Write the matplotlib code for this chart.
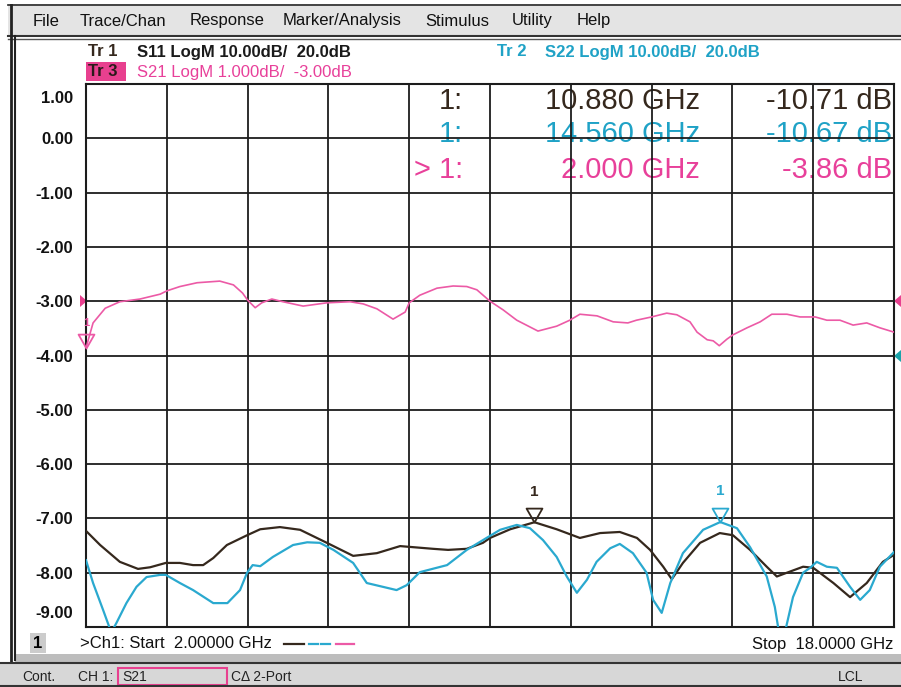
import numpy as np
import matplotlib.pyplot as plt
from matplotlib.patches import Rectangle, Polygon
from matplotlib.path import Path
from matplotlib.transforms import ScaledTranslation

plt.rcParams['font.family'] = ['Liberation Sans', 'DejaVu Sans']

# sweep, GHz
f_start, f_stop = 2.0, 18.0

# Tr 3  S21 LogM 1.000dB/div, ref -3.00dB (same scale as the left axis)
s21_f = [2.0, 2.14, 2.38, 2.67, 3.07, 3.47, 3.6, 3.86, 4.2, 4.65, 4.92, 5.1, 5.2,
         5.35, 5.48, 5.68, 5.9, 6.3, 6.77, 7.23, 7.49, 7.76, 8.08, 8.32, 8.4, 8.61,
         8.95, 9.27, 9.54, 9.74, 10.0, 10.26, 10.53, 10.95, 11.32, 11.58, 11.78,
         12.12, 12.44, 12.73, 12.9, 13.2, 13.5, 13.7, 13.96, 14.1, 14.3, 14.42,
         14.54, 14.69, 14.81, 15.09, 15.35, 15.58, 15.88, 16.14, 16.44, 16.67,
         16.93, 17.19, 17.46, 17.72, 18.0]
s21_db = [-3.86, -3.40, -3.13, -3.01, -2.96, -2.87, -2.81, -2.73, -2.66, -2.63,
          -2.70, -2.85, -2.98, -3.12, -3.03, -2.96, -3.01, -3.09, -3.03, -3.01,
          -3.05, -3.14, -3.33, -3.20, -3.03, -2.89, -2.76, -2.72, -2.73, -2.79,
          -3.00, -3.16, -3.35, -3.55, -3.46, -3.35, -3.24, -3.27, -3.38, -3.40,
          -3.35, -3.29, -3.22, -3.25, -3.38, -3.57, -3.71, -3.73, -3.82, -3.70,
          -3.62, -3.49, -3.38, -3.24, -3.24, -3.29, -3.29, -3.35, -3.35, -3.44,
          -3.40, -3.49, -3.57]

# Tr 1  S11 LogM 10.00dB/div, ref 20.0dB
s11_f = [2.0, 2.28, 2.67, 3.03, 3.27, 3.58, 3.86, 4.12, 4.32, 4.52, 4.79, 5.19,
         5.45, 5.84, 6.24, 6.77, 7.29, 7.76, 8.22, 8.87, 9.17, 9.54, 9.86, 10.0,
         10.4, 10.88, 11.32, 11.78, 12.18, 12.57, 12.91, 13.17, 13.43, 13.6,
         13.82, 14.16, 14.55, 14.81, 15.15, 15.48, 15.68, 15.88, 16.2, 16.4,
         16.8, 17.13, 17.46, 17.78, 18.0]
s11_db = [-12.3, -14.9, -18.0, -19.3, -19.0, -18.2, -18.2, -18.6, -18.6, -17.3,
          -14.9, -13.1, -12.0, -11.6, -12.1, -14.5, -16.9, -16.4, -15.1, -15.6,
          -15.8, -15.6, -14.5, -13.6, -12.0, -10.71, -12.0, -13.6, -12.7, -12.5,
          -13.6, -15.8, -18.9, -21.2, -18.2, -14.5, -12.7, -13.1, -15.8, -18.9,
          -20.7, -20.0, -18.9, -19.1, -21.9, -24.5, -21.9, -18.0, -16.7]

# Tr 2  S22 LogM 10.00dB/div, ref 20.0dB
s22_f = [2.0, 2.14, 2.34, 2.5, 2.6, 2.8, 3.0, 3.2, 3.47, 3.58, 3.86, 4.12, 4.52,
         4.8, 5.05, 5.19, 5.3, 5.45, 5.7, 6.1, 6.38, 6.63, 6.9, 7.29, 7.56, 8.15,
         8.35, 8.61, 9.15, 9.54, 9.86, 10.2, 10.53, 10.79, 11.05, 11.32, 11.52,
         11.72, 11.92, 12.11, 12.38, 12.57, 12.83, 13.1, 13.23, 13.4, 13.57,
         13.82, 14.22, 14.56, 14.89, 15.15, 15.48, 15.64, 15.74, 15.84, 16.0,
         16.2, 16.34, 16.47, 16.67, 16.87, 17.13, 17.33, 17.52, 17.72, 18.0]
s22_db = [-17.7, -21.9, -26.9, -31.0, -29.3, -25.6, -22.6, -20.8, -20.4, -20.4,
          -21.9, -23.2, -25.6, -25.6, -23.2, -20.0, -18.6, -18.8, -17.1, -14.9,
          -14.4, -14.5, -15.8, -18.2, -21.9, -23.2, -22.3, -19.9, -18.6, -15.8,
          -14.0, -12.1, -11.2, -11.8, -14.0, -17.1, -20.7, -23.7, -21.3, -18.0,
          -15.5, -14.7, -16.4, -20.0, -25.0, -27.4, -21.9, -16.4, -12.1, -10.67,
          -11.8, -15.3, -20.7, -26.3, -32.0, -31.0, -24.5, -20.0, -19.1, -18.0,
          -18.9, -19.1, -22.6, -25.0, -23.2, -18.9, -16.2]

# markers (GHz, dB)
mk_s11 = (10.880, -10.71)
mk_s22 = (14.560, -10.67)
mk_s21 = (2.000, -3.86)

y_ticks = [1, 0, -1, -2, -3, -4, -5, -6, -7, -8, -9]
y_labels = ['1.00', '0.00', '-1.00', '-2.00', '-3.00', '-4.00', '-5.00',
            '-6.00', '-7.00', '-8.00', '-9.00']

menu_items = ['File', 'Trace/Chan', 'Response', 'Marker/Analysis', 'Stimulus',
              'Utility', 'Help']
menu_x = [33, 80, 190, 283, 425, 512, 577]

c_s11 = '#35281d'
c_s22 = '#2aa9cf'
c_s21 = '#ec5aa6'
c_s21_txt = '#e8409a'
c_s22_txt = '#1fa2c6'
c_grid = '#1c1c1c'


def s11_scale(db):
    # 10 dB/div, 20 dB sits on the -4.00 line of the S21 grid
    return (np.asarray(db) - 20.0) / 10.0 - 4.0


W, H = 901, 687
fig = plt.figure(figsize=(W / 100, H / 100), dpi=100)

# screen furniture in pixel coordinates
bg = fig.add_axes([0, 0, 1, 1])
bg.set_xlim(0, W)
bg.set_ylim(H, 0)
bg.axis('off')
bg.add_patch(Rectangle((0, 0), W, H, fc='white', ec='none'))
bg.add_patch(Rectangle((8, 6), W, 30, fc='#e4e4e4', ec='none'))
bg.plot([8, W], [5, 5], color='#222', lw=1.2)
bg.plot([8, W], [36, 36], color='#333', lw=1.5)
bg.plot([8, W], [39, 39], color='#555', lw=1.0)
bg.plot([11, 11], [5, 662], color='#222', lw=2.0)
bg.plot([15, 15], [36, 660], color='#222', lw=1.5)
bg.add_patch(Rectangle((15, 654), W, 8, fc='#bdbdbd', ec='none'))
bg.add_patch(Rectangle((0, 662), W, 25, fc='#d7d7d7', ec='none'))
bg.plot([0, W], [662.5, 662.5], color='#333', lw=1.5)
bg.plot([0, W], [686, 686], color='#333', lw=1.5)

for name, x in zip(menu_items, menu_x):
    bg.text(x, 21, name, fontsize=12, va='center', color='#111')

# trace headers
bg.text(88, 52, 'Tr 1', fontsize=12, fontweight='bold', va='center', color=c_s11)
bg.text(137, 52, 'S11 LogM 10.00dB/  20.0dB', fontsize=12, fontweight='bold',
        va='center', color='#1a1a1a')
bg.text(497, 52, 'Tr 2', fontsize=12, fontweight='bold', va='center', color=c_s22_txt)
bg.text(545, 52, 'S22 LogM 10.00dB/  20.0dB', fontsize=12, fontweight='bold',
        va='center', color=c_s22_txt)
bg.add_patch(Rectangle((86, 62), 40, 19, fc='#e8408f', ec='none'))
bg.text(88, 72, 'Tr 3', fontsize=12, fontweight='bold', va='center', color='#2a1a1a')
bg.text(137, 72, 'S21 LogM 1.000dB/  -3.00dB', fontsize=12, va='center',
        color=c_s21_txt)

# marker readout table
rows = [('1:', '10.880 GHz', '-10.71 dB', c_s11, 101),
        ('1:', '14.560 GHz', '-10.67 dB', c_s22_txt, 134),
        ('> 1:', '2.000 GHz', '-3.86 dB', c_s21_txt, 170)]
for lab, fq, val, col, y in rows:
    bg.text(463, y, lab, fontsize=21, ha='right', va='center', color=col)
    bg.text(700, y, fq, fontsize=21, ha='right', va='center', color=col)
    bg.text(892, y, val, fontsize=21, ha='right', va='center', color=col)

# reference position arrows
bg.add_patch(Polygon([(80, 295), (80, 307), (87, 301)], fc='#e8408f', ec='none'))
bg.add_patch(Polygon([(901, 295), (901, 307), (894, 301)], fc='#e8408f', ec='none'))
bg.add_patch(Polygon([(901, 350), (901, 362), (894, 356)], fc='#1aa3aa', ec='none'))

# footer
bg.add_patch(Rectangle((30, 633), 16, 20, fc='#cccccc', ec='none'))
bg.text(38, 643, '1', fontsize=12, fontweight='bold', ha='center', va='center')
bg.text(80, 644, '>Ch1: Start  2.00000 GHz', fontsize=12, va='center', color='#111')
bg.plot([284, 304], [644, 644], color=c_s11, lw=1.6)
bg.plot([309, 318], [644, 644], color=c_s22, lw=1.6)
bg.plot([321, 330], [644, 644], color=c_s22, lw=1.6)
bg.plot([336, 354], [644, 644], color=c_s21, lw=1.6)
bg.text(893, 645, 'Stop  18.0000 GHz', fontsize=12, ha='right', va='center',
        color='#111')

bg.text(22, 677, 'Cont.', fontsize=10, va='center', color='#222')
bg.text(78, 677, 'CH 1:', fontsize=10, va='center', color='#222')
bg.add_patch(Rectangle((118, 668), 109, 17, fc='none', ec='#e8408f', lw=1.5))
bg.text(122, 677, 'S21', fontsize=10, va='center', color='#222')
bg.text(231, 677, 'C\u0394 2-Port', fontsize=10, va='center', color='#222')
bg.text(838, 677, 'LCL', fontsize=10, va='center', color='#222')

# measurement grid
ax = fig.add_axes([86 / W, (H - 627) / H, 808 / W, 543 / H])
ax.set_facecolor('none')
ax.set_xlim(f_start, f_stop)
ax.set_ylim(-9, 1)
ax.set_xticks(np.linspace(f_start, f_stop, 11))
ax.set_xticklabels([])
ax.set_yticks(y_ticks)
ax.set_yticklabels(y_labels, fontweight='bold')
ax.tick_params(length=0)
ax.tick_params(axis='y', pad=9, labelsize=12, labelcolor='#111')
ax.grid(True, color=c_grid, lw=1.3)
for sp in ax.spines.values():
    sp.set_color(c_grid)
    sp.set_linewidth(1.5)

labs = ax.get_yticklabels()
labs[0].set_transform(labs[0].get_transform()
                      + ScaledTranslation(0, -0.13, fig.dpi_scale_trans))
labs[-1].set_transform(labs[-1].get_transform()
                       + ScaledTranslation(0, 0.15, fig.dpi_scale_trans))

ax.plot(s11_f, s11_scale(s11_db), color=c_s11, lw=1.6, zorder=3)
ax.plot(s22_f, s11_scale(s22_db), color=c_s22, lw=1.6, zorder=3)
ax.plot(s21_f, s21_db, color=c_s21, lw=1.2, zorder=3)

# marker triangles, tip on the trace
tri = Path([(-1, 1.75), (1, 1.75), (0, 0), (-1, 1.75)],
           [Path.MOVETO, Path.LINETO, Path.LINETO, Path.CLOSEPOLY])
for (fq, db), y, col in [(mk_s11, s11_scale(mk_s11[1]), c_s11),
                         (mk_s22, s11_scale(mk_s22[1]), c_s22),
                         (mk_s21, mk_s21[1], c_s21)]:
    ax.plot([fq], [y], marker=tri, ms=20, mfc='none', mec=col, mew=1.3,
            clip_on=False, zorder=4)
    fs = 8 if col == c_s21 else 11
    dy = 17 if col != c_s21 else 14
    ax.annotate('1', (fq, y), xytext=(0, dy), textcoords='offset points',
                ha='center', va='bottom', fontsize=fs, fontweight='bold',
                color=col, annotation_clip=False)

fig.savefig('out.png', dpi=100)
